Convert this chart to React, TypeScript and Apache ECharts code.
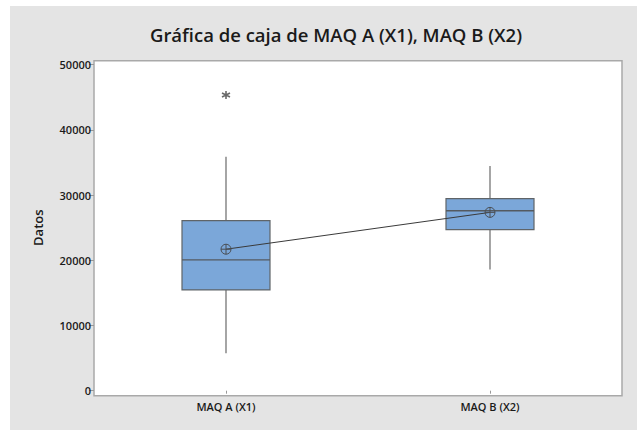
import React, { useEffect, useRef } from "react";
import * as echarts from "echarts";

const categories = ["MAQ A (X1)", "MAQ B (X2)"];
const whiskerLow = [5750, 18600];
const quartile1 = [15450, 24700];
const medians = [20050, 27600];
const quartile3 = [26070, 29450];
const whiskerHigh = [35900, 34450];
const means = [21700, 27350];
const outliers: [number, number][] = [[0, 45350]];
const yTicks = { min: 0, max: 50000, interval: 10000 };

const FONT = "'Open Sans', 'Noto Sans', sans-serif";

export default function App() {
  const ref = useRef<HTMLDivElement>(null);
  useEffect(() => {
    document.body.style.margin = "0";
    document.body.style.overflow = "hidden";
    document.body.style.background = "#e4e4e4";
    document.documentElement.style.overflow = "hidden";
    document.documentElement.style.background = "#e4e4e4";
    const chart = echarts.init(ref.current!, null, { renderer: "svg" });
    const boxData = categories.map((_, i) => [
      i,
      whiskerLow[i],
      quartile1[i],
      medians[i],
      quartile3[i],
      whiskerHigh[i],
    ]);
    chart.setOption({
      animation: false,
      backgroundColor: "#ffffff",
      title: {
        text: "Gráfica de caja de MAQ A (X1), MAQ B (X2)",
        left: 331,
        top: 20,
        textAlign: "center",
        textStyle: {
          fontFamily: FONT,
          fontSize: 18.5,
          fontWeight: 600,
          color: "#1a1a1a",
        },
      },
      graphic: [
        {
          type: "rect",
          z: -10,
          silent: true,
          shape: { x: 10, y: 6, width: 640, height: 440 },
          style: { fill: "#e4e4e4" },
        },
        {
          type: "rect",
          z: -9,
          silent: true,
          shape: { x: 94, y: 60.7, width: 528, height: 335 },
          style: { fill: "#ffffff", stroke: "#a9a9a9", lineWidth: 1.5 },
        },
      ],
      grid: { left: 94, right: 15, top: 64.7, bottom: 39.3 },
      xAxis: {
        type: "category",
        data: categories,
        boundaryGap: true,
        offset: 5,
        axisLine: { show: false },
        axisTick: {
          show: true,
          alignWithLabel: true,
          length: 3,
          lineStyle: { color: "#999" },
        },
        axisLabel: {
          margin: 5,
          fontFamily: FONT,
          fontSize: 11,
          fontWeight: 600,
          color: "#1a1a1a",
        },
        splitLine: { show: false },
      },
      yAxis: {
        type: "value",
        min: yTicks.min,
        max: yTicks.max,
        interval: yTicks.interval,
        name: "Datos",
        nameLocation: "middle",
        nameRotate: 90,
        nameGap: 50,
        nameTextStyle: {
          fontFamily: FONT,
          fontSize: 13,
          fontWeight: 600,
          color: "#1a1a1a",
        },
        axisLine: { show: false },
        axisTick: { show: true, length: 5, lineStyle: { color: "#999" } },
        axisLabel: {
          margin: 3,
          fontFamily: FONT,
          fontSize: 11,
          fontWeight: 600,
          color: "#1a1a1a",
          formatter: (v: number) => String(v),
        },
        splitLine: { show: false },
      },
      series: [
        {
          type: "custom",
          data: boxData,
          encode: { x: 0, y: [1, 2, 3, 4, 5] },
          z: 3,
          renderItem: (params: any, api: any) => {
            const idx = api.value(0);
            const lo = api.coord([idx, api.value(1)]);
            const q1 = api.coord([idx, api.value(2)]);
            const md = api.coord([idx, api.value(3)]);
            const q3 = api.coord([idx, api.value(4)]);
            const hi = api.coord([idx, api.value(5)]);
            const band = api.size([1, 0])[0];
            const w = band / 3;
            const cx = lo[0];
            const whisker = { stroke: "#6a6a6a", lineWidth: 1.2 };
            return {
              type: "group",
              children: [
                {
                  type: "line",
                  shape: { x1: cx, y1: hi[1], x2: cx, y2: q3[1] },
                  style: whisker,
                },
                {
                  type: "line",
                  shape: { x1: cx, y1: q1[1], x2: cx, y2: lo[1] },
                  style: whisker,
                },
                {
                  type: "rect",
                  shape: { x: cx - w / 2, y: q3[1], width: w, height: q1[1] - q3[1] },
                  style: { fill: "#7ba7d9", stroke: "#5f6468", lineWidth: 1.2 },
                },
                {
                  type: "line",
                  shape: { x1: cx - w / 2, y1: md[1], x2: cx + w / 2, y2: md[1] },
                  style: { stroke: "#545a60", lineWidth: 1.3 },
                },
              ],
            };
          },
        },
        {
          type: "line",
          data: means,
          z: 5,
          symbol:
            "path://M-5,0A5,5,0,1,1,5,0A5,5,0,1,1,-5,0ZM-5,0L5,0M0,-5L0,5",
          symbolSize: 10,
          itemStyle: { color: "rgba(0,0,0,0)", borderColor: "#4a4f55", borderWidth: 1 },
          lineStyle: { color: "#3a3a3a", width: 1 },
        },
        {
          type: "scatter",
          data: outliers,
          z: 5,
          symbol: "path://M0,-5L0,5M-4.33,-2.5L4.33,2.5M-4.33,2.5L4.33,-2.5",
          symbolSize: [8, 8],
          itemStyle: { color: "rgba(0,0,0,0)", borderColor: "#444", borderWidth: 1.6 },
        },
      ],
    });
    return () => chart.dispose();
  }, []);
  return <div ref={ref} style={{ width: 637, height: 430, background: "#e4e4e4" }} />;
}
